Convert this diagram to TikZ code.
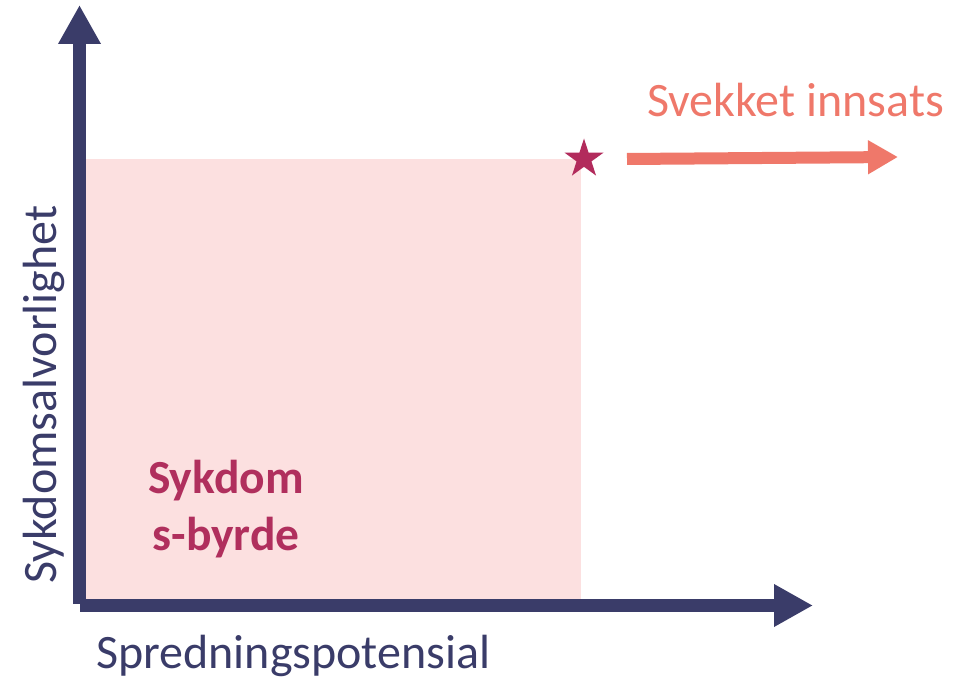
\documentclass[tikz,border=0pt]{standalone}
\usepackage{fontspec}
\setmainfont{Carlito}
\usetikzlibrary{arrows.meta,shapes.geometric}

\definecolor{axisnavy}{HTML}{3A3C69}
\definecolor{burdenpink}{HTML}{FCE0E0}
\definecolor{starred}{HTML}{B22B5C}
\definecolor{salmon}{HTML}{EF786A}
\definecolor{burdentext}{HTML}{B02F5D}

\tikzset{
  axis/.style={draw=axisnavy, line width=13pt,
    -{Triangle[length=39pt,width=40pt]}},
  trend/.style={draw=salmon, line width=12pt,
    -{Triangle[length=30pt,width=32pt]}},
  axislabel/.style={text=axisnavy, font=\fontsize{48}{57}\selectfont, inner sep=0pt},
  trendlabel/.style={text=salmon, font=\fontsize{48}{57}\selectfont, inner sep=0pt},
  burdenlabel/.style={text=burdentext, font=\bfseries\fontsize{47.5}{57}\selectfont,
    align=center, inner sep=0pt},
}

\begin{document}
\begin{tikzpicture}[x=1pt, y=-1pt]
  \useasboundingbox (0,0) rectangle (956,684);

  % shaded burden region
  \fill[burdenpink] (86,159) rectangle (581,599);

  % axes
  \coordinate (origin-y) at (79.5,604);
  \coordinate (top-y) at (79.5,5);
  \coordinate (origin-x) at (80,605.5);
  \coordinate (end-x) at (813,605.5);
  \draw[axis] (origin-y) -- (top-y);
  \draw[axis] (origin-x) -- (end-x);

  % axis labels
  \node[axislabel, anchor=base west] (xlabel) at (96,668) {Spredningspotensial};
  \node[axislabel, anchor=base west, rotate=90] (ylabel) at (56,584) {Sykdomsalvorlighet};

  % region label
  \node[burdenlabel] (burden) at (226,509) {Sykdom\\s-byrde};

  % corner marker and weakened-effort trend
  \node[star, star points=5, star point ratio=2.618, fill=starred,
        minimum size=41pt, inner sep=0pt] (mark) at (584,159) {};
  \coordinate (trend-start) at (627,159);
  \coordinate (trend-end) at (898,157);
  \draw[trend] (trend-start) -- (trend-end);
  \node[trendlabel, anchor=base west] (trendlabel) at (647,117) {Svekket innsats};
\end{tikzpicture}
\end{document}
